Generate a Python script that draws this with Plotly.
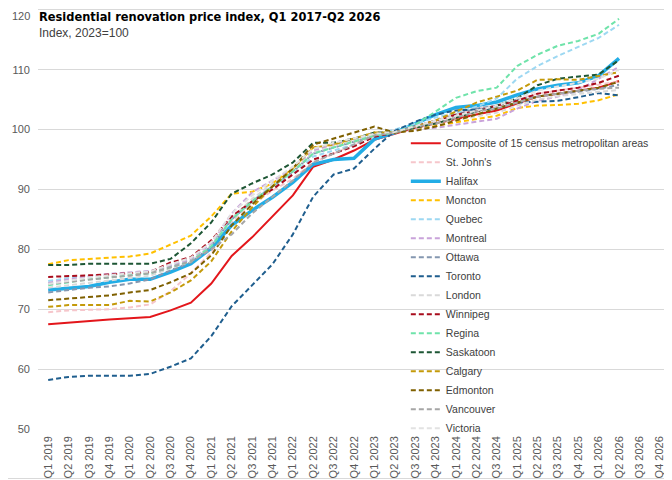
import plotly.graph_objects as go

# 軸のカテゴリ（元グラフでは Q4 2024 が欠けている）
axis_quarters = [
    "Q1 2019", "Q2 2019", "Q3 2019", "Q4 2019",
    "Q1 2020", "Q2 2020", "Q3 2020", "Q4 2020",
    "Q1 2021", "Q2 2021", "Q3 2021", "Q4 2021",
    "Q1 2022", "Q2 2022", "Q3 2022", "Q4 2022",
    "Q1 2023", "Q2 2023", "Q3 2023", "Q4 2023",
    "Q1 2024", "Q2 2024", "Q3 2024",
    "Q1 2025", "Q2 2025", "Q3 2025", "Q4 2025",
    "Q1 2026", "Q2 2026", "Q3 2026", "Q4 2026",
]
data_quarters = axis_quarters[:29]

composite = [67.5, 67.8, 68.1, 68.3, 68.5, 68.7, 69.8, 71.1, 74.3, 78.9, 82.0, 85.5, 89.0, 93.8, 95.0,
             96.5, 98.3, 99.3, 100.3, 101.0, 101.8, 102.5, 103.2, 104.3, 105.5, 106.0, 106.5, 107.0, 108.1]
st_johns = [69.5, 69.8, 69.9, 70.0, 70.3, 70.8, 73.0, 76.0, 79.5, 84.5, 87.5, 89.8, 91.8, 94.5, 96.0,
            97.5, 99.0, 99.5, 100.5, 101.5, 102.5, 103.5, 104.0, 105.0, 106.0, 106.5, 107.0, 107.5, 108.0]
halifax = [73.2, 73.5, 73.8, 74.5, 75.0, 75.0, 76.2, 77.6, 80.2, 84.0, 86.5, 88.7, 91.2, 94.2, 95.0,
           95.2, 98.4, 99.5, 101.0, 102.5, 103.7, 104.0, 104.6, 105.8, 106.8, 107.4, 107.8, 109.0, 111.9]
moncton = [77.5, 78.2, 78.4, 78.6, 78.8, 79.3, 80.8, 82.3, 85.5, 89.3, 89.6, 91.0, 93.5, 97.0, 97.5,
           98.0, 99.0, 99.5, 100.0, 100.6, 101.2, 101.8, 102.3, 103.6, 104.0, 104.1, 104.3, 104.9, 105.9]
quebec = [74.7, 75.2, 75.5, 75.8, 76.0, 76.3, 77.3, 78.4, 81.0, 85.0, 88.0, 90.5, 92.5, 95.5, 96.5,
          97.5, 99.0, 100.0, 101.0, 102.0, 102.8, 103.8, 105.2, 108.5, 110.6, 112.3, 113.8, 115.3, 117.5]
montreal = [74.4, 75.0, 75.5, 75.9, 76.1, 76.4, 77.2, 78.3, 81.0, 86.0, 89.5, 91.5, 93.5, 96.5, 97.5,
            98.5, 99.0, 99.5, 100.0, 100.3, 100.8, 101.2, 101.8, 103.5, 104.8, 105.5, 106.5, 108.5, 110.5]
ottawa = [72.8, 73.2, 73.6, 73.8, 74.3, 75.0, 76.5, 77.8, 80.5, 85.0, 88.0, 90.5, 93.0, 96.0, 97.0,
          98.0, 99.0, 99.5, 100.5, 101.5, 102.5, 103.5, 104.0, 105.0, 105.5, 106.0, 106.3, 106.8, 107.5]
toronto = [58.2, 58.7, 58.9, 58.9, 58.9, 59.2, 60.4, 61.8, 65.5, 70.5, 74.0, 77.5, 82.5, 88.8, 92.5,
           93.5, 96.8, 99.8, 101.3, 102.5, 103.2, 103.3, 103.5, 104.5, 104.6, 104.8, 105.4, 106.1, 105.7]
london = [73.6, 74.0, 74.5, 74.8, 75.2, 75.6, 76.8, 78.0, 80.6, 85.2, 88.4, 91.0, 93.2, 96.2, 97.2,
          98.2, 99.2, 99.5, 100.4, 101.0, 101.6, 102.2, 102.8, 104.0, 105.0, 105.6, 106.0, 106.3, 106.6]
winnipeg = [75.4, 75.5, 75.7, 75.8, 76.0, 76.2, 77.8, 78.7, 81.5, 85.5, 88.0, 90.0, 92.5, 95.0, 96.0,
            97.2, 98.8, 99.5, 100.5, 101.5, 102.5, 103.0, 104.0, 104.8, 106.0, 106.5, 107.0, 107.8, 109.0]
regina = [74.0, 74.5, 75.0, 75.3, 75.6, 76.0, 77.0, 78.0, 80.5, 85.0, 88.0, 90.5, 93.0, 96.0, 97.0,
          98.0, 99.0, 99.5, 100.8, 103.0, 105.3, 106.4, 107.0, 110.6, 112.5, 114.0, 114.8, 116.0, 118.5]
saskatoon = [77.4, 77.4, 77.6, 77.6, 77.6, 77.6, 78.4, 81.0, 84.5, 89.3, 91.0, 92.5, 94.5, 97.8, 97.8,
             98.5, 99.5, 99.5, 100.3, 101.0, 102.0, 103.0, 104.0, 105.2, 107.4, 108.5, 108.9, 109.2, 111.6]
calgary = [70.4, 70.7, 70.7, 70.7, 71.4, 71.3, 72.8, 74.8, 78.0, 83.0, 87.0, 90.5, 93.5, 97.0, 97.5,
           98.5, 99.5, 99.5, 100.5, 101.5, 103.0, 104.5, 105.5, 106.5, 108.3, 108.4, 108.3, 108.9, 109.6]
edmonton = [71.5, 71.8, 72.0, 72.3, 72.8, 73.2, 74.5, 76.0, 79.0, 84.0, 87.5, 90.5, 93.5, 97.5, 98.5,
            99.5, 100.5, 99.5, 99.8, 100.5, 101.5, 102.5, 103.5, 104.5, 105.5, 106.0, 106.5, 107.0, 108.0]
vancouver = [74.2, 74.6, 75.0, 75.3, 75.6, 76.0, 77.0, 78.0, 80.0, 82.5, 86.0, 88.8, 91.5, 94.5, 96.0,
             97.5, 99.0, 99.5, 100.5, 101.0, 102.0, 103.0, 103.5, 104.5, 105.5, 106.0, 106.5, 106.8, 107.0]
victoria = [74.2, 74.8, 75.3, 75.7, 76.0, 76.3, 77.5, 78.6, 81.2, 86.0, 89.0, 91.5, 93.8, 96.8, 97.8,
            98.6, 99.3, 99.6, 100.6, 101.5, 102.3, 103.2, 104.0, 105.2, 106.5, 107.2, 107.8, 108.5, 110.0]

y_ticks = [50, 60, 70, 80, 90, 100, 110, 120]
# 最上段の 120 はページ上端で切れるため、注記で描く
y_tick_text = ["50", "60", "70", "80", "90", "100", "110", ""]
y_top_label = "120"

# 系列名・値・色・線種
SERIES = [
    ("Composite of 15 census metropolitan areas", composite, "#E3161B", "solid", 2),
    ("St. John's", st_johns, "#F6C6CB", "dash", 2),
    ("Halifax", halifax, "#22ADE6", "solid", 3.5),
    ("Moncton", moncton, "#FFC000", "dash", 2),
    ("Quebec", quebec, "#9DD8F2", "dash", 2),
    ("Montreal", montreal, "#C9A3DA", "dash", 2),
    ("Ottawa", ottawa, "#8497B0", "dash", 2),
    ("Toronto", toronto, "#1F5E8E", "dash", 2),
    ("London", london, "#D9D9D9", "dash", 2),
    ("Winnipeg", winnipeg, "#A80C1C", "dash", 2),
    ("Regina", regina, "#6FE3AA", "dash", 2),
    ("Saskatoon", saskatoon, "#1D5634", "dash", 2),
    ("Calgary", calgary, "#C49A0A", "dash", 2),
    ("Edmonton", edmonton, "#7F6000", "dash", 2),
    ("Vancouver", vancouver, "#A6A6A6", "dash", 2),
    ("Victoria", victoria, "#E2E2E2", "dash", 2),
]

FONT = "Liberation Sans, Arial, sans-serif"

fig = go.Figure()
for name, values, color, dash, width in SERIES:
    fig.add_trace(go.Scatter(
        x=data_quarters,
        y=values,
        mode="lines",
        name=name,
        line=dict(color=color, width=width, dash="5px,3px" if dash == "dash" else "solid"),
    ))

# ページの body 余白（8px）を見込んだ配置
fig.update_layout(
    width=672,
    height=480,
    margin=dict(l=30, r=10, t=0, b=59, autoexpand=False),
    paper_bgcolor="white",
    plot_bgcolor="white",
    font=dict(family=FONT, size=11, color="#404040"),
    showlegend=True,
    legend=dict(
        x=0.582, y=0.713, xanchor="left", yanchor="top",
        bgcolor="rgba(0,0,0,0)",
        font=dict(size=10.5, color="#404040"),
        tracegroupgap=0,
        itemwidth=30,
    ),
    xaxis=dict(
        type="category",
        categoryorder="array",
        categoryarray=axis_quarters,
        range=[-0.5, len(axis_quarters) - 0.5],
        tickangle=-90,
        tickfont=dict(size=11, color="#595959"),
        ticklabelstandoff=4,
        showgrid=False,
        showline=False,
        ticks="",
    ),
    yaxis=dict(
        range=[50, 120.3],
        tickvals=y_ticks,
        ticktext=y_tick_text,
        tickfont=dict(size=11, color="#595959"),
        ticklabelstandoff=7,
        gridcolor="#D9D9D9",
        gridwidth=1,
        zeroline=False,
        showline=False,
        ticks="",
    ),
)

fig.add_annotation(
    text=y_top_label,
    xref="paper", yref="paper", x=0.0, y=1.0, xanchor="right", yanchor="top",
    xshift=-6, showarrow=False, font=dict(size=11, color="#595959"),
)
fig.add_annotation(
    text="<b>Residential renovation price index, Q1 2017-Q2 2026</b>",
    xref="paper", yref="paper", x=-0.002, y=0.979, xanchor="left", yanchor="middle",
    showarrow=False, font=dict(family="Liberation Sans Narrow, DejaVu Sans Condensed, sans-serif",
                               size=12.7, color="#000000"),
)
fig.add_annotation(
    text="Index, 2023=100",
    xref="paper", yref="paper", x=-0.002, y=0.941, xanchor="left", yanchor="middle",
    showarrow=False, font=dict(size=12, color="#404040"),
)

# 外枠（右・下のみ見える）
fig.add_shape(
    type="rect", xref="paper", yref="paper",
    x0=-0.1, x1=1.0024, y0=-0.1176, y1=1.05,
    line=dict(color="#D9D9D9", width=1), layer="below",
)

fig.write_html("out.html")
